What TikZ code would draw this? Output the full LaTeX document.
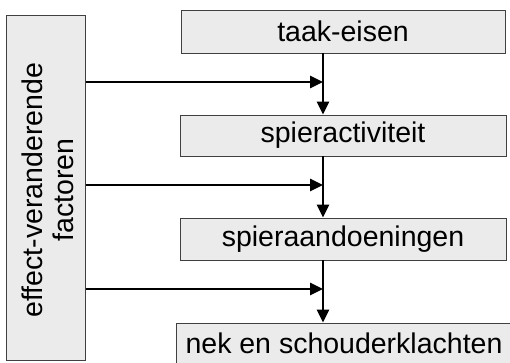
\documentclass[tikz,border=0pt]{standalone}
\usepackage{fontspec}
\setmainfont{Liberation Sans}
\usetikzlibrary{arrows.meta}
\begin{document}
\begin{tikzpicture}[x=1pt,y=-1pt,
  box/.style={draw=black!75, line width=0.8pt, fill=black!8, inner sep=0pt,
    font=\fontsize{28.5}{32}\selectfont},
  arr/.style={line width=2.8pt, -{Triangle[length=13pt,width=12pt]}}]
\useasboundingbox (0,0) rectangle (510,362);
\node[box, minimum width=324pt, minimum height=43pt] (t) at (343,31.5) {taak-eisen};
\node[box, minimum width=326pt, minimum height=41pt] (s) at (343,135.5) {spieractiviteit};
\node[box, minimum width=326pt, minimum height=42pt] (a) at (343,239) {spieraandoeningen};
\node[box, minimum width=336pt, minimum height=41pt] (n) at (344,343.5) {nek en schouderklachten};
\node[box, minimum width=79pt, minimum height=345pt] (f) at (46,187.5) {};
\node[font=\fontsize{28.5}{31.5}\selectfont, rotate=90, align=center] (ft) at (48,190) {effect-veranderende\\factoren};
\coordinate (v1) at (323,82);
\coordinate (v2) at (323,185);
\coordinate (v3) at (323,289);
\draw[arr] (t.south -| v1) -- (s.north -| v1);
\draw[arr] (s.south -| v2) -- (a.north -| v2);
\draw[arr] (a.south -| v3) -- (n.north -| v3);
\draw[arr] (f.east |- v1) -- (v1);
\draw[arr] (f.east |- v2) -- (v2);
\draw[arr] (f.east |- v3) -- (v3);
\end{tikzpicture}
\end{document}
